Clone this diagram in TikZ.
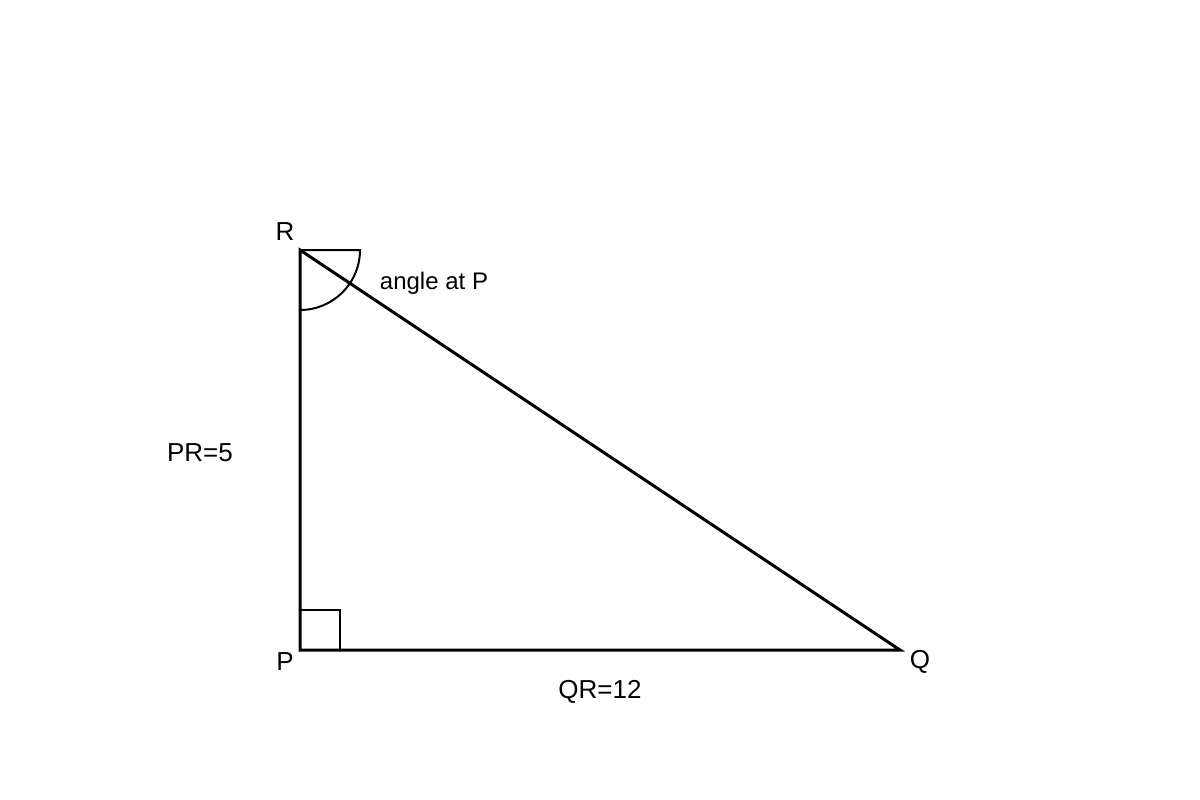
\documentclass[tikz,border=0pt]{standalone}
\usepackage{fontspec}
\setmainfont{Liberation Sans}
\begin{document}
\begin{tikzpicture}[x=1pt,y=-1pt,
  thick line/.style={line width=3pt,line join=miter},
  thin line/.style={line width=2pt},
  lbl/.style={inner sep=0pt,font=\fontsize{26}{30}\selectfont},
  slbl/.style={inner sep=0pt,font=\fontsize{24}{28}\selectfont}]
\useasboundingbox (0,0) rectangle (1200,800);
\coordinate (R) at (300,250);
\coordinate (P) at (300,650);
\coordinate (Q) at (900,650);
\draw[thin line] (300,610) -- (340,610) -- (340,650);
\draw[thin line] (R) -- (360,250) arc[start angle=0,end angle=90,radius=60];
\draw[thick line] (R) -- (P) -- (Q) -- cycle;
\node[lbl] (lR) at (285,232) {R};
\node[lbl] (lP) at (285,662) {P};
\node[lbl] (lQ) at (920,662) {Q};
\node[lbl] (lPR) at (200,453) {PR=5};
\node[lbl] (lQR) at (600,692) {QR=12};
\node[slbl] (lang) at (434,283) {angle at P};
\end{tikzpicture}
\end{document}
